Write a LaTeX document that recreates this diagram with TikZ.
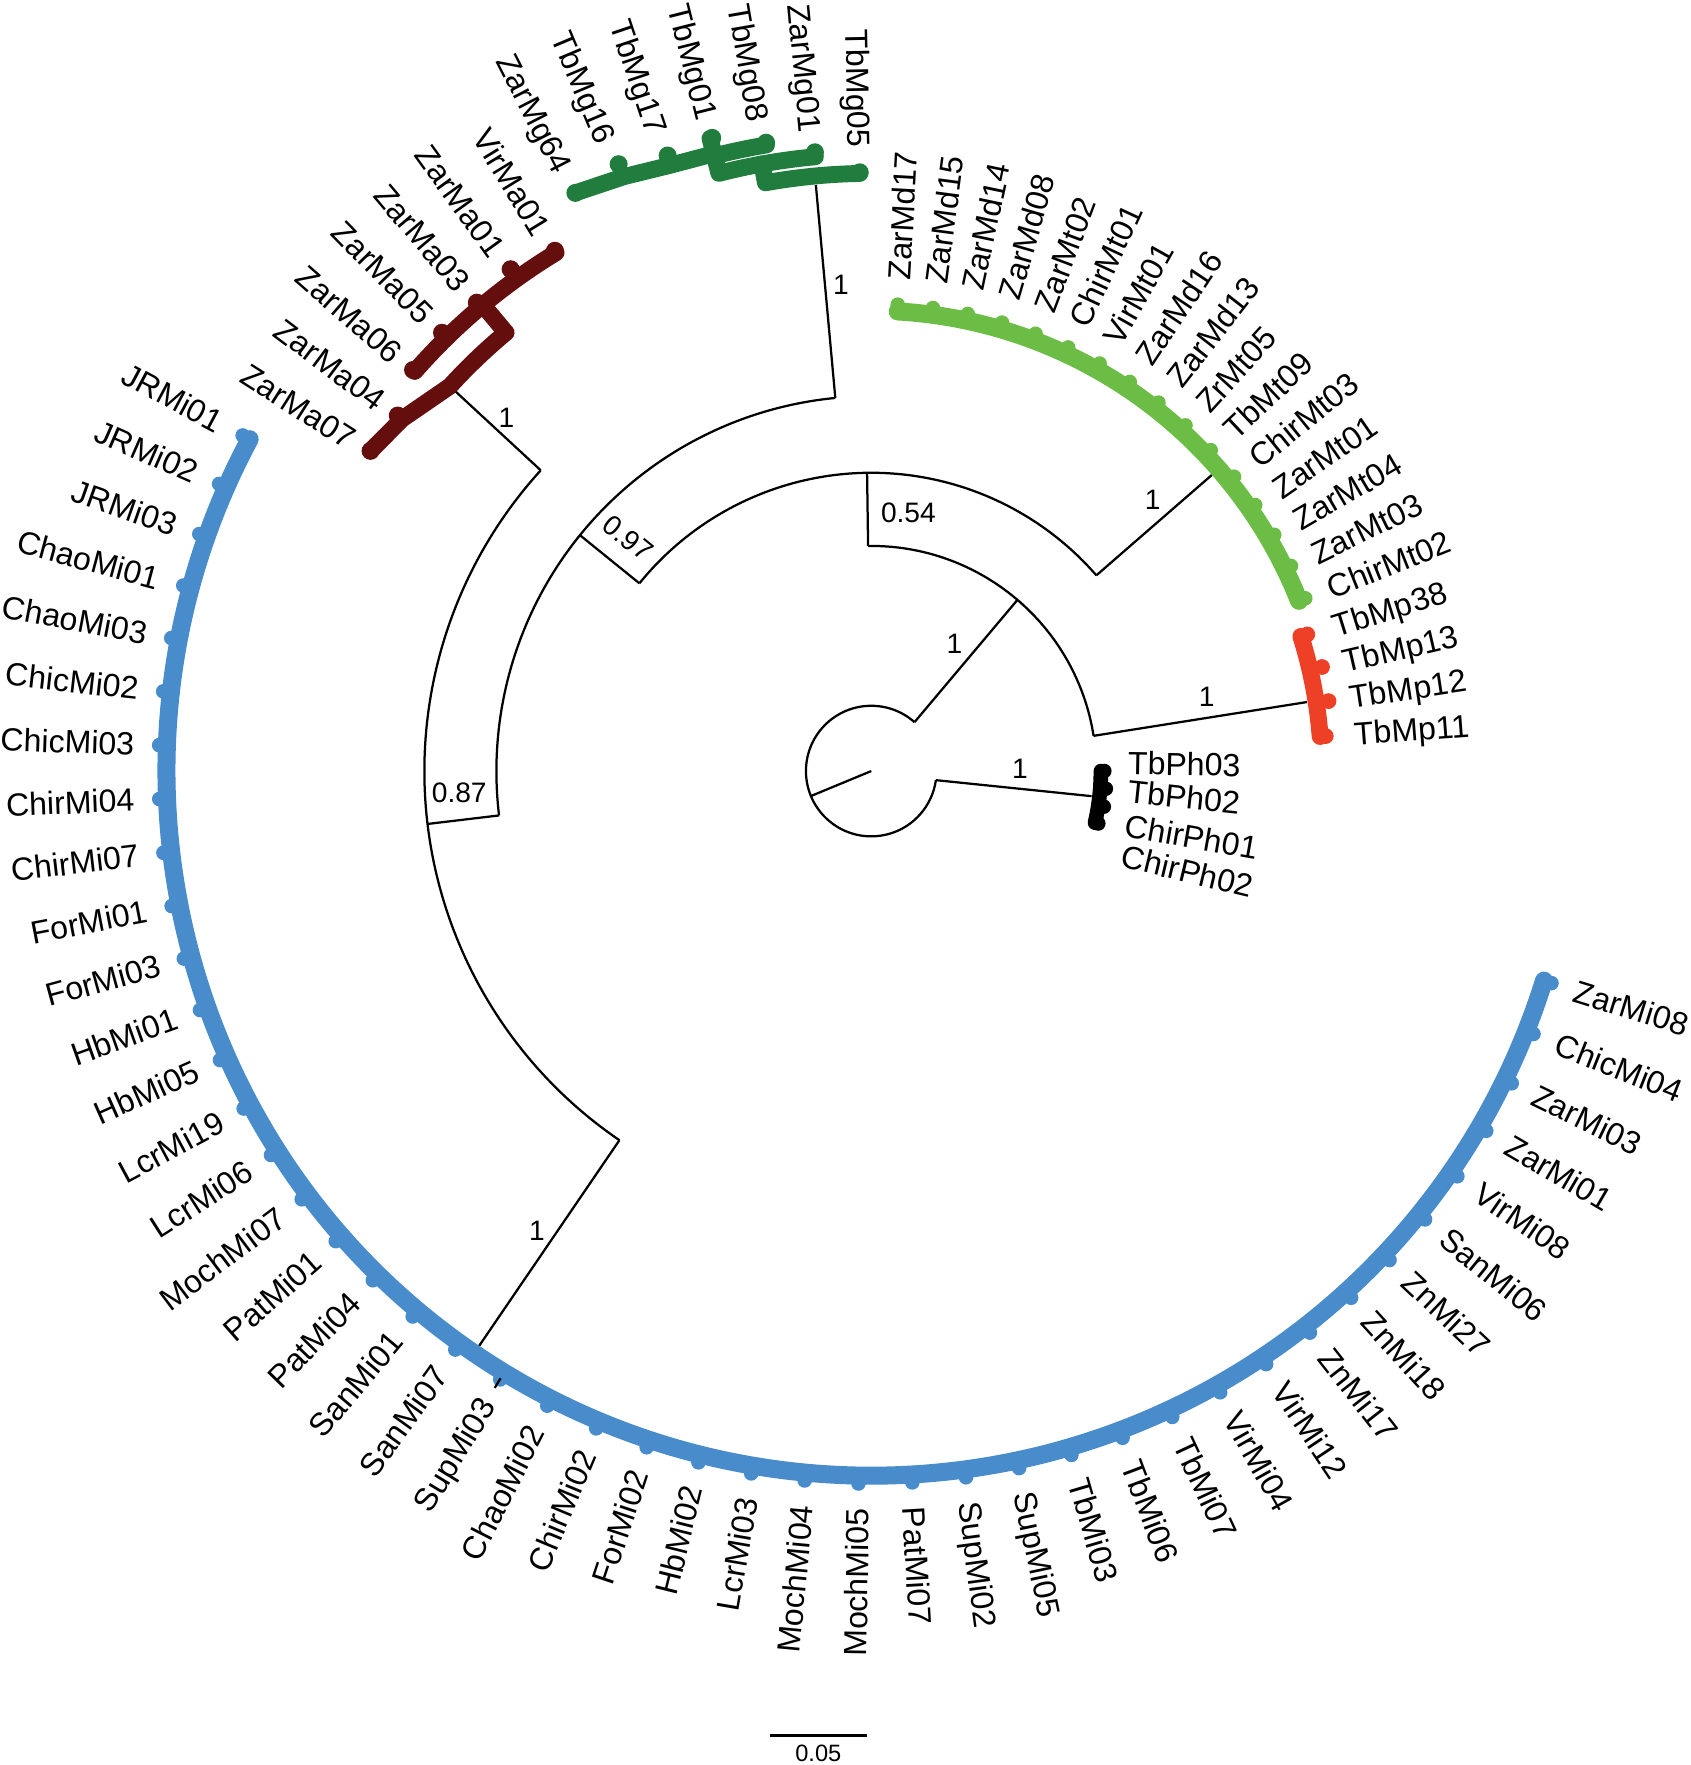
\documentclass[tikz,border=0pt]{standalone}
\usepackage{fontspec}
\setmainfont{Liberation Sans}
\definecolor{miblue}{RGB}{72,140,204}
\definecolor{mtgreen}{RGB}{108,189,69}
\definecolor{mggreen}{RGB}{33,125,62}
\definecolor{mared}{RGB}{100,14,14}
\definecolor{mpred}{RGB}{238,64,38}
\tikzset{
  br/.style={draw=black, line width=2pt},
  band/.style={line width=15pt, line cap=round, line join=round},
  lbl/.style={font=\fontsize{28.5}{31}\selectfont, inner sep=0pt, text height=20pt, text depth=0pt},
  sup/.style={font=\fontsize{25}{28}\selectfont, inner sep=0pt},
  scl/.style={font=\fontsize{21}{24}\selectfont, inner sep=0pt},
}
\begin{document}
\begin{tikzpicture}[x=1pt,y=1pt]
\useasboundingbox (-774,-883) rectangle (728,685);
\fill[white] (-774,-883) rectangle (728,685);
% ---------- backbone ----------
\coordinate (root) at (0,0);
\coordinate (rootend) at (202.5:58pt);
\coordinate (rcA) at (48.5:58pt);
\coordinate (rcB) at (-8:58pt);
\coordinate (n1) at (49.5:200pt);
\coordinate (phn) at (-6.5:197pt);
\coordinate (n1a) at (9:200pt);
\coordinate (mpn) at (9:392pt);
\coordinate (n1b) at (90.8:200pt);
\coordinate (n054) at (90.8:265pt);
\coordinate (n054a) at (41:265pt);
\coordinate (mtn) at (41:401pt);
\coordinate (n054b) at (141:265pt);
\coordinate (n097) at (141:333pt);
\coordinate (n097a) at (95.5:333pt);
\coordinate (mgn) at (95.4:523pt);
\coordinate (n097b) at (186.8:333pt);
\coordinate (n087) at (186.8:397pt);
\coordinate (n087a) at (137.7:397pt);
\coordinate (man) at (137.6:500pt);
\coordinate (n087b) at (235.7:397pt);
\coordinate (min) at (235.7:619pt);

\draw[br] (root) -- (rootend);
\draw[br] (rcA) arc[start angle=48.5, end angle=352, radius=58pt];
\draw[br] (rcA) -- (n1);
\draw[br] (rcB) -- (phn);
\draw[br] (n1a) arc[start angle=9, end angle=90.8, radius=200pt];
\draw[br] (n1a) -- (mpn);
\draw[br] (n1b) -- (n054);
\draw[br] (n054a) arc[start angle=41, end angle=141, radius=265pt];
\draw[br] (n054a) -- (mtn);
\draw[br] (n054b) -- (n097);
\draw[br] (n097a) arc[start angle=95.5, end angle=186.8, radius=333pt];
\draw[br] (n097a) -- (mgn);
\draw[br] (n097b) -- (n087);
\draw[br] (n087a) arc[start angle=137.7, end angle=235.7, radius=397pt];
\draw[br] (n087a) -- (man);
\draw[br] (n087b) -- (min);

% ---------- Mi clade ----------
\draw[miblue,band,line width=16pt] (151.9:626pt) arc[start angle=151.9, end angle=342.7, radius=626pt];
\foreach \k in {0,...,44}{\fill[miblue] ({151.9+4.336*\k}:633pt) circle[radius=6.5pt];}
\draw[br] (238.6:632pt) -- (238.6:642pt);

% ---------- Mt clade ----------
\draw[mtgreen,band,line width=16pt] (21.7:409pt) arc[start angle=21.7, end angle=86.7, radius=409pt];
\foreach \k in {53,...,68}{\fill[mtgreen] ({151.9+4.336*\k-360}:415pt) circle[radius=6.5pt];}

% ---------- Mp clade ----------
\draw[mpred,band] (4.4:400pt) arc[start angle=4.4, end angle=17.4, radius=400pt];
\foreach \ang/\r in {4.4/405, 8.7/411, 13/411, 17.4/406}{\fill[mpred] (\ang:\r pt) circle[radius=7pt];}

% ---------- Ph clade ----------
\draw[black,band,line width=13pt] (-13:204pt) arc[start angle=-13, end angle=0, radius=204pt];
\foreach \ang/\r in {0/207, -4.3/209, -8.7/209, -13/207}{\fill[black] (\ang:\r pt) circle[radius=6.5pt];}

% ---------- Mg clade ----------
\draw[mggreen,band] (91.1:531pt) arc[start angle=91.1, end angle=100.2, radius=531pt] -- (100.2:548pt);
\draw[mggreen,band] (95.2:548pt) arc[start angle=95.2, end angle=104.3, radius=548pt] -- (104.3:580pt);
\draw[mggreen,band] (99.5:564pt) arc[start angle=99.5, end angle=104.3, radius=565pt];
\draw[mggreen,band] (104.3:566pt) -- (108.3:567pt) -- (112.6:572pt) -- (117.1:577pt);
\foreach \ang/\r in {91.1/532, 95.2/552, 99.5/566, 104.1/580, 108.3/576, 112.6/584, 117.1/577}{\fill[mggreen] (\ang:\r pt) circle[radius=8pt];}

% ---------- Ma clade ----------
\draw[mared,band] (129.8:507pt) arc[start angle=129.8, end angle=137.6, radius=507pt] -- (143.1:521pt) -- (147.4:528pt);
\draw[mared,band] (129.8:507pt) -- (129.8:539pt);
\draw[mared,band] (121.3:539pt) arc[start angle=121.3, end angle=138.8, radius=539pt];
\foreach \ang/\r in {121.3/541, 125.7/549, 130.1/544, 134.4/545, 138.8/541, 143.1/526, 147.4/528}{\fill[mared] (\ang:\r pt) circle[radius=8pt];}

% ---------- tip labels ----------
\foreach \n [count=\k from 0] in {JRMi01,JRMi02,JRMi03,ChaoMi01,ChaoMi03,ChicMi02,ChicMi03,ChirMi04,ChirMi07,ForMi01,ForMi03,HbMi01,HbMi05,LcrMi19,LcrMi06,MochMi07,PatMi01,PatMi04,SanMi01,SanMi07,SupMi03,ChaoMi02,ChirMi02,ForMi02,HbMi02,LcrMi03,MochMi04,MochMi05,PatMi07,SupMi02,SupMi05,TbMi03,TbMi06,TbMi07,VirMi04,VirMi12,ZnMi17,ZnMi18,ZnMi27,SanMi06,VirMi08,ZarMi01,ZarMi03,ChicMi04,ZarMi08}{
  \pgfmathsetmacro\ang{151.9+4.336*\k}
  \ifdim\ang pt<270pt
    \node[lbl,anchor=east,rotate=\ang-180] (l\n) at (\ang:655pt) {\n};
  \else
    \node[lbl,anchor=west,rotate=\ang] (l\n) at (\ang:655pt) {\n};
  \fi
}
\foreach \n [count=\k from 53] in {ChirMt02,ZarMt03,ZarMt04,ZarMt01,ChirMt03,TbMt09,ZrMt05,ZarMd13,ZarMd16,VirMt01,ChirMt01,ZarMt02,ZarMd08,ZarMd14,ZarMd15,ZarMd17}{
  \pgfmathsetmacro\ang{151.9+4.336*\k-360}
  \node[lbl,anchor=west,rotate=\ang] (l\n) at (\ang:437pt) {\n};
}
\foreach \n [count=\k from 49] in {TbMp11,TbMp12,TbMp13,TbMp38}{
  \pgfmathsetmacro\ang{151.9+4.336*\k-360}
  \node[lbl,anchor=west,rotate=\ang] (l\n) at (\ang:430pt) {\n};
}
\foreach \n/\ang/\r in {TbMg05/91.1/554, ZarMg01/95.4/570, TbMg08/99.8/586, TbMg01/104.1/597, TbMg17/108.5/598, TbMg16/112.8/606, ZarMg64/117.1/599, VirMa01/121.4/560, ZarMa01/125.8/567, ZarMa03/130.1/562, ZarMa05/134.4/563, ZarMa06/138.8/559, ZarMa04/143.1/544, ZarMa07/147.5/546}{
  \node[lbl,anchor=east,rotate=\ang-180] (l\n) at (\ang:\r pt) {\n};
}
\node[lbl,anchor=west,rotate=-1] (lTbPh03) at (228,7) {TbPh03};
\node[lbl,anchor=west,rotate=-6] (lTbPh02) at (228,-18) {TbPh02};
\node[lbl,anchor=west,rotate=-10] (lChirPh01) at (226,-48) {ChirPh01};
\node[lbl,anchor=west,rotate=-13.5] (lChirPh02) at (223,-75) {ChirPh02};

% ---------- support values ----------
\node[sup] (s1) at (74,113) {1};
\node[sup] (s2) at (132,2) {1};
\node[sup] (s3) at (298,66) {1};
\node[sup] (s4) at (33,229) {0.54};
\node[sup] (s5) at (250,241) {1};
\node[sup,rotate=-39] (s6) at (-216,207) {0.97};
\node[sup] (s7) at (-366,-19) {0.87};
\node[sup] (s8) at (-324,314) {1};
\node[sup] (s9) at (-27,432) {1};
\node[sup] (s10) at (-297,-408) {1};

% ---------- scale bar ----------
\coordinate (sbA) at (-90,-857);
\coordinate (sbB) at (-4,-857);
\draw[line width=3pt] (sbA) -- (sbB);
\node[scl] (sbt) at (-47,-873) {0.05};
\end{tikzpicture}
\end{document}
